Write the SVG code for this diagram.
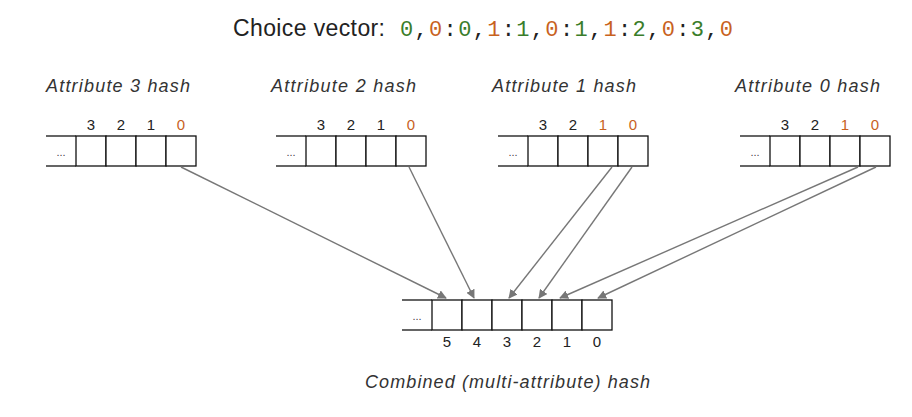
<svg xmlns="http://www.w3.org/2000/svg" width="912" height="417" viewBox="0 0 912 417">
<style>
.c{fill:#fff;stroke:#111;stroke-width:1.3}
.l{stroke:#111;stroke-width:1.3}
.t{font-family:"Liberation Sans",Arial,sans-serif;font-size:15px;fill:#222;text-anchor:middle}
.i{font-family:"Liberation Sans",Arial,sans-serif;font-size:18px;font-style:italic;fill:#333}
.d{font-family:"Liberation Sans",Arial,sans-serif;font-size:11px;fill:#444;text-anchor:middle}
.o{fill:#c8621e}.g{fill:#3a7d2a}
.a{stroke:#777;stroke-width:1.4;fill:none;marker-end:url(#ah)}
</style>
<defs>
<marker id="ah" viewBox="0 0 10 10" refX="9" refY="5" markerWidth="9" markerHeight="9" markerUnits="userSpaceOnUse" orient="auto"><path d="M0,0L10,5L0,10z" fill="#777"/></marker>
<g id="reg4">
<line class="l" x1="0" y1="0" x2="30" y2="0"/><line class="l" x1="0" y1="30" x2="30" y2="30"/>
<rect class="c" x="30" y="0" width="30" height="30"/><rect class="c" x="60" y="0" width="30" height="30"/>
<rect class="c" x="90" y="0" width="30" height="30"/><rect class="c" x="120" y="0" width="30" height="30"/>
<text class="d" x="15" y="20">...</text>
</g>
</defs>
<text x="233" y="36" textLength="152" style="font-family:'Liberation Sans',Arial,sans-serif;font-size:23px;fill:#222">Choice vector:</text>
<text x="400" y="36" textLength="333" style="font-family:'Liberation Mono','DejaVu Sans Mono',monospace;font-size:22px;fill:#222"><tspan class="g">0</tspan>,<tspan class="o">0</tspan>:<tspan class="g">0</tspan>,<tspan class="o">1</tspan>:<tspan class="g">1</tspan>,<tspan class="o">0</tspan>:<tspan class="g">1</tspan>,<tspan class="o">1</tspan>:<tspan class="g">2</tspan>,<tspan class="o">0</tspan>:<tspan class="g">3</tspan>,<tspan class="o">0</tspan></text>
<g id="attr3"><text class="i" x="46" y="92" textLength="144">Attribute 3 hash</text><use href="#reg4" x="46" y="136"/>
<text class="t" x="91" y="130">3</text><text class="t" x="121" y="130">2</text><text class="t" x="151" y="130">1</text><text class="t o" x="181" y="130">0</text></g>
<g id="attr2"><text class="i" x="271" y="92" textLength="145">Attribute 2 hash</text><use href="#reg4" x="276" y="136"/>
<text class="t" x="321" y="130">3</text><text class="t" x="351" y="130">2</text><text class="t" x="381" y="130">1</text><text class="t o" x="411" y="130">0</text></g>
<g id="attr1"><text class="i" x="492" y="92" textLength="144">Attribute 1 hash</text><use href="#reg4" x="498" y="136"/>
<text class="t" x="543" y="130">3</text><text class="t" x="573" y="130">2</text><text class="t o" x="603" y="130">1</text><text class="t o" x="633" y="130">0</text></g>
<g id="attr0"><text class="i" x="735" y="92" textLength="145">Attribute 0 hash</text><use href="#reg4" x="740" y="136"/>
<text class="t" x="785" y="130">3</text><text class="t" x="815" y="130">2</text><text class="t o" x="845" y="130">1</text><text class="t o" x="875" y="130">0</text></g>
<g id="combined">
<line class="l" x1="402" y1="300" x2="432" y2="300"/><line class="l" x1="402" y1="330" x2="432" y2="330"/>
<text class="d" x="417" y="320">...</text>
<rect class="c" x="432" y="300" width="30" height="30"/><rect class="c" x="462" y="300" width="30" height="30"/>
<rect class="c" x="492" y="300" width="30" height="30"/><rect class="c" x="522" y="300" width="30" height="30"/>
<rect class="c" x="552" y="300" width="30" height="30"/><rect class="c" x="582" y="300" width="30" height="30"/>
<text class="t" x="447" y="347">5</text><text class="t" x="477" y="347">4</text><text class="t" x="507" y="347">3</text>
<text class="t" x="537" y="347">2</text><text class="t" x="567" y="347">1</text><text class="t" x="597" y="347">0</text>
<text class="i" x="365" y="388" textLength="285">Combined (multi-attribute) hash</text>
</g>
<g id="connectors">
<line class="a" x1="181" y1="167" x2="446" y2="298"/>
<line class="a" x1="409" y1="167" x2="474" y2="298"/>
<line class="a" x1="612" y1="167" x2="509" y2="298"/>
<line class="a" x1="632" y1="167" x2="539" y2="298"/>
<line class="a" x1="858" y1="167" x2="560" y2="298"/>
<line class="a" x1="876" y1="167" x2="598" y2="298"/>
</g>
</svg>
